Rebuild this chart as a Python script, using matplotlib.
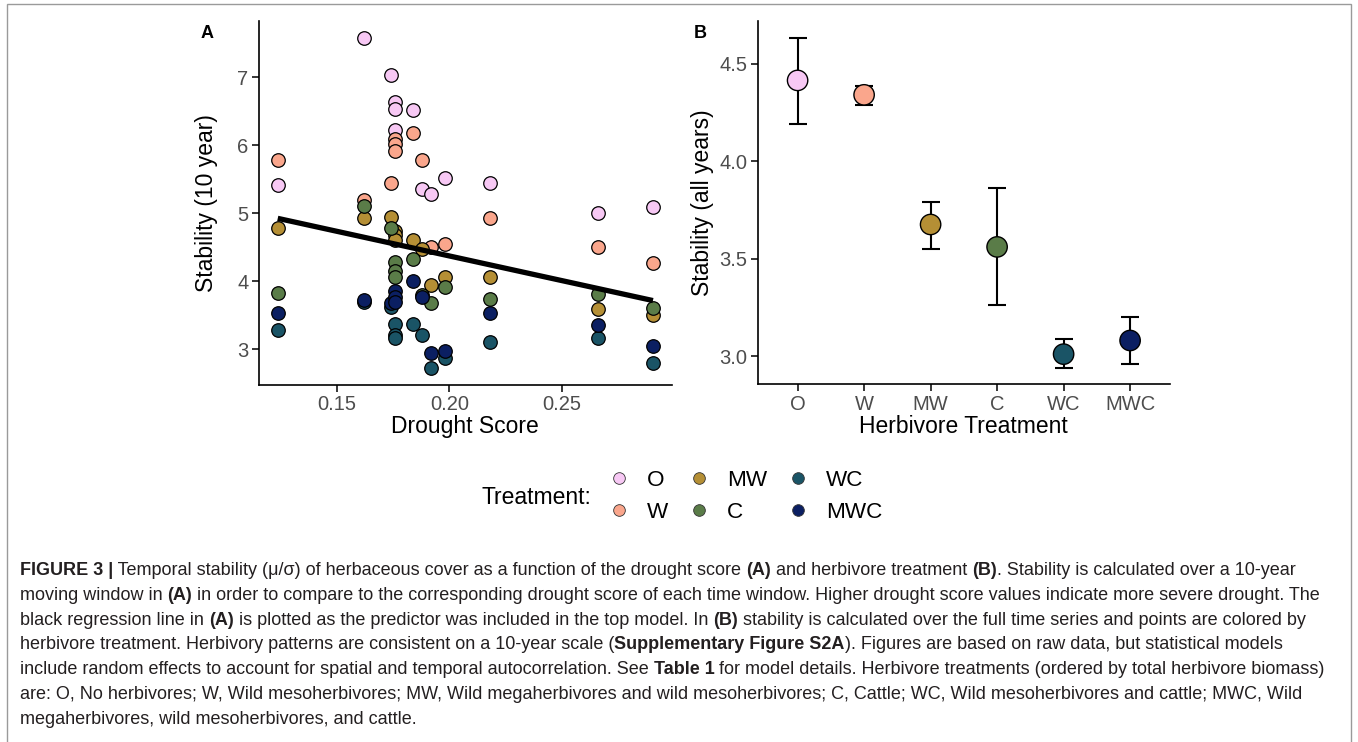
import numpy as np
import matplotlib
matplotlib.use("Agg")
import matplotlib.pyplot as plt
from matplotlib.lines import Line2D
from matplotlib.patches import Rectangle
from matplotlib import font_manager as fm

# ---------------- data ----------------
treatments = ["O", "W", "MW", "C", "WC", "MWC"]
colors = ["#F7C8F4", "#FAA68C", "#B58F35", "#5A7C48", "#1A5466", "#0B1F62"]

drought_score = [0.1236, 0.1618, 0.174, 0.176, 0.176, 0.176, 0.1838,
                 0.188, 0.192, 0.198, 0.218, 0.266, 0.2906]

stab10_O   = [5.41, 7.58, 7.03, 6.63, 6.53, 6.22, 6.51, 5.35, 5.28, 5.52, 5.45, 5.00, 5.09]
stab10_W   = [5.78, 5.19, 5.45, 6.09, 6.02, 5.92, 6.18, 5.78, 4.51, 4.55, 4.93, 4.51, 4.27]
stab10_MW  = [4.78, 4.93, 4.95, 4.74, 4.68, 4.61, 4.60, 4.47, 3.95, 4.07, 4.06, 3.59, 3.50]
stab10_C   = [3.83, 5.10, 4.79, 4.29, 4.15, 4.07, 4.33, 3.80, 3.68, 3.91, 3.74, 3.81, 3.61]
stab10_WC  = [3.28, 3.70, 3.62, 3.38, 3.21, 3.17, 3.37, 3.21, 2.72, 2.87, 3.11, 3.17, 2.80]
stab10_MWC = [3.54, 3.72, 3.68, 3.86, 3.77, 3.70, 4.00, 3.77, 2.95, 2.97, 3.53, 3.36, 3.05]
stab10 = [stab10_O, stab10_W, stab10_MW, stab10_C, stab10_WC, stab10_MWC]

stab_all_mean  = [4.414, 4.340, 3.675, 3.560, 3.010, 3.080]
stab_all_lower = [4.190, 4.290, 3.550, 3.260, 2.940, 2.960]
stab_all_upper = [4.634, 4.385, 3.790, 3.860, 3.090, 3.200]

xticksA = [0.15, 0.20, 0.25]
yticksA = [3, 4, 5, 6, 7]
yticksB = [3.0, 3.5, 4.0, 4.5]

caption_lines = [
    [("FIGURE 3 |", True), (" Temporal stability (\u03bc/\u03c3) of herbaceous cover as a function of the drought score ", False),
     ("(A)", True), (" and herbivore treatment ", False), ("(B)", True), (". Stability is calculated over a 10-year", False)],
    [("moving window in ", False), ("(A)", True),
     (" in order to compare to the corresponding drought score of each time window. Higher drought score values indicate more severe drought. The", False)],
    [("black regression line in ", False), ("(A)", True), (" is plotted as the predictor was included in the top model. In ", False),
     ("(B)", True), (" stability is calculated over the full time series and points are colored by", False)],
    [("herbivore treatment. Herbivory patterns are consistent on a 10-year scale (", False), ("Supplementary Figure S2A", True),
     ("). Figures are based on raw data, but statistical models", False)],
    [("include random effects to account for spatial and temporal autocorrelation. See ", False), ("Table 1", True),
     (" for model details. Herbivore treatments (ordered by total herbivore biomass)", False)],
    [("are: O, No herbivores; W, Wild mesoherbivores; MW, Wild megaherbivores and wild mesoherbivores; C, Cattle; WC, Wild mesoherbivores and cattle; MWC, Wild", False)],
    [("megaherbivores, wild mesoherbivores, and cattle.", False)],
]

# ---------------- figure ----------------
W, H = 1358, 742
plt.rcParams['font.family'] = ['Liberation Sans', 'DejaVu Sans']
fig = plt.figure(figsize=(W / 100, H / 100), dpi=100)
fig.patch.set_facecolor("white")


def px_rect(l, t, r, b):
    return [l / W, 1 - b / H, (r - l) / W, (b - t) / H]


tick_col = "#4D4D4D"
axA = fig.add_axes(px_rect(259, 21, 671.7, 385))
axB = fig.add_axes(px_rect(757.7, 21, 1170, 384.3))

for ax in (axA, axB):
    for s in ("top", "right"):
        ax.spines[s].set_visible(False)
    for s in ("left", "bottom"):
        ax.spines[s].set_linewidth(1.2)
        ax.spines[s].set_color("black")
    ax.tick_params(axis="both", length=5, width=1.1, color="black",
                   labelsize=14.5, labelcolor=tick_col, pad=2.5)

# Panel A
xs = np.array(drought_score)
for vals, col in zip(stab10, colors):
    axA.scatter(xs, vals, s=95, c=col, edgecolors="black", linewidths=0.9, zorder=3)

all_x = np.concatenate([xs for _ in stab10])
all_y = np.concatenate([np.array(v) for v in stab10])
slope, intercept = np.polyfit(all_x, all_y, 1)
xl = np.array([xs.min(), xs.max()])
axA.plot(xl, intercept + slope * xl, color="black", lw=3.8, zorder=4, solid_capstyle="butt")

xr = xs.max() - xs.min()
axA.set_xlim(xs.min() - 0.05 * xr, xs.max() + 0.05 * xr)
yr = all_y.max() - all_y.min()
axA.set_ylim(all_y.min() - 0.05 * yr, all_y.max() + 0.05 * yr)
axA.set_xticks(xticksA)
axA.set_xticklabels([f"{v:.2f}" for v in xticksA])
axA.set_yticks(yticksA)
axA.set_xlabel("Drought Score", fontsize=16.5)
axA.set_ylabel("Stability (10 year)", fontsize=16.5)

# Panel B
xb = np.arange(len(treatments))
mean = np.array(stab_all_mean)
lo = np.array(stab_all_lower)
hi = np.array(stab_all_upper)
axB.errorbar(xb, mean, yerr=[mean - lo, hi - mean], fmt="none", ecolor="black",
             elinewidth=1.5, capsize=6.5, capthick=1.5, zorder=2)
axB.scatter(xb, mean, s=215, c=colors, edgecolors="black", linewidths=1.0, zorder=3)
axB.set_xlim(-0.6, len(treatments) - 1 + 0.6)
br = hi.max() - lo.min()
axB.set_ylim(lo.min() - 0.05 * br, hi.max() + 0.05 * br)
axB.set_xticks(xb)
axB.set_xticklabels(treatments)
axB.set_yticks(yticksB)
axB.set_yticklabels([f"{v:.1f}" for v in yticksB])
axB.set_xlabel("Herbivore Treatment", fontsize=16.5)
axB.set_ylabel("Stability (all years)", fontsize=16.5)

# label positions
for ax, ylx, l, r in ((axA, 207, 259, 671.7), (axB, 703, 757.7, 1170)):
    ax.yaxis.set_label_coords((ylx - l) / (r - l), 0.5)
    ax.yaxis.label.set_va("center")
    ax.xaxis.set_label_coords(0.5, (385 - 427) / 364.0)
    ax.xaxis.label.set_va("center")

fig.text(207 / W, 1 - 33 / H, "A", fontsize=13, fontweight="bold", ha="center", va="center")
fig.text(700 / W, 1 - 33 / H, "B", fontsize=13, fontweight="bold", ha="center", va="center")

# Legend
handles = [Line2D([], [], marker="o", linestyle="none", markersize=8.4,
                  markerfacecolor=c, markeredgecolor="#333333", markeredgewidth=0.6)
           for c in colors]
fig.legend(handles, treatments, loc="center left", bbox_to_anchor=(608 / W, 1 - 496.5 / H),
           ncol=3, frameon=False, fontsize=16.2, handlelength=1.0, handletextpad=0.75,
           columnspacing=0.85, labelspacing=0.5, borderpad=0, borderaxespad=0)
fig.text(481 / W, 1 - 497 / H, "Treatment:", fontsize=16.5, ha="left", va="center")

# frame around figure
fig.patches.append(Rectangle((7 / W, -0.01), (1351 - 7) / W, 1 - 4 / H + 0.01,
                             transform=fig.transFigure, fill=False,
                             edgecolor="#9a9a9a", linewidth=1.0))

# Caption
def font_ok(name):
    try:
        fm.findfont(fm.FontProperties(family=name), fallback_to_default=False)
        return True
    except Exception:
        return False

cap_font = "Liberation Sans Narrow" if font_ok("Liberation Sans Narrow") else "Liberation Sans"
cap_col = "#231F20"
renderer = fig.canvas.get_renderer()


def seg_width(txt, bold, size):
    prop = fm.FontProperties(family=[cap_font, "DejaVu Sans"], size=size,
                             weight="bold" if bold else "normal")
    w1, _, _ = renderer.get_text_width_height_descent("x" + txt + "x", prop, ismath=False)
    w0, _, _ = renderer.get_text_width_height_descent("xx", prop, ismath=False)
    return (w1 - w0)


ref_size = 10.0
w_ref = sum(seg_width(t, b, ref_size) for t, b in caption_lines[4])
cap_size = ref_size * (1330 - 20) / w_ref

x0 = 20
base0 = 575
pitch = 24.8
for i, line in enumerate(caption_lines):
    x = x0
    y = base0 + i * pitch
    for txt, bold in line:
        fig.text(x / W, 1 - y / H, txt, fontsize=cap_size, color=cap_col,
                 family=[cap_font, "DejaVu Sans"], fontweight="bold" if bold else "normal",
                 ha="left", va="baseline")
        x += seg_width(txt, bold, cap_size)

fig.savefig("out.png", dpi=100, facecolor="white")
